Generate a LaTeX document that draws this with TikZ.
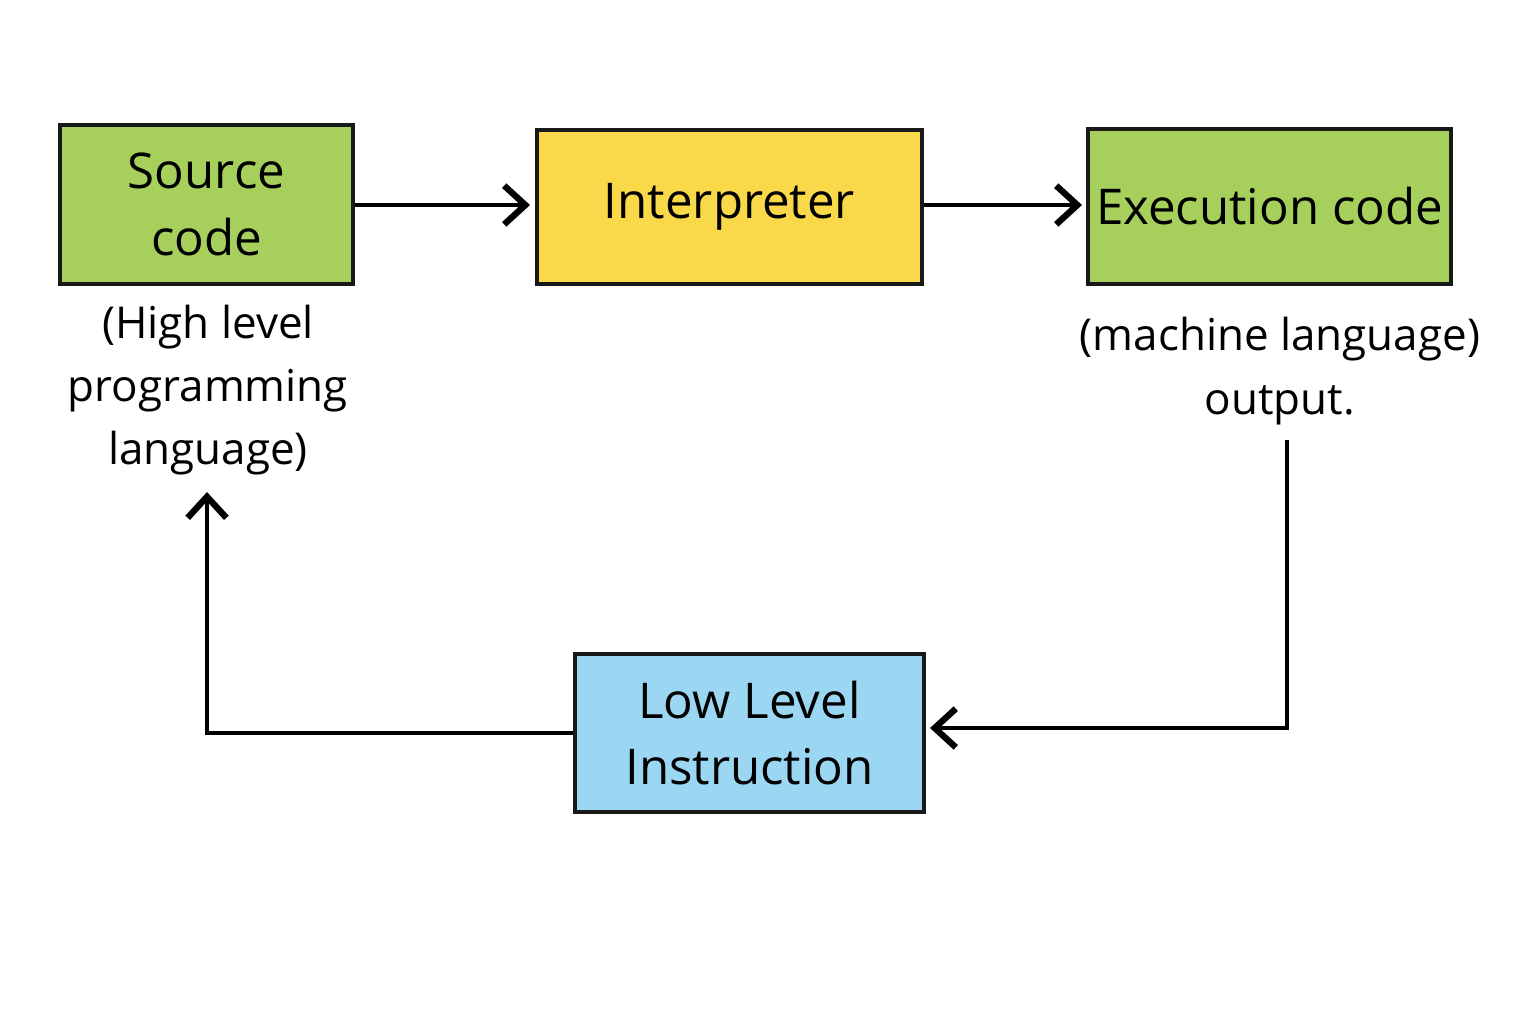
\documentclass[tikz,border=0pt]{standalone}
\usepackage{fontspec}
\setmainfont{Open Sans}
\usetikzlibrary{arrows.meta}
\definecolor{grn}{HTML}{A6CF5C}
\definecolor{ylw}{HTML}{F9D84A}
\definecolor{blu}{HTML}{9BD6F3}
\begin{document}
\begin{tikzpicture}[x=0.01cm,y=-0.01cm,
  box/.style={draw=black!90,line width=1.3pt,inner sep=0pt,align=center,font=\fontsize{14}{19}\selectfont},
  lbl/.style={align=center,font=\fontsize{12.5}{18}\selectfont},
  arr/.style={line width=1.2pt,-{Straight Barb[length=6pt,width=11pt,line width=1.8pt]}}]
\useasboundingbox (0,0) rectangle (1528,1029);
\node[box,fill=grn,minimum width=2.93cm,minimum height=1.59cm] (src) at (206.5,204.5) {Source\\code};
\node[box,fill=ylw,minimum width=3.85cm,minimum height=1.54cm] (int) at (729.5,207) {Interpreter};
\node[box,fill=grn,minimum width=3.63cm,minimum height=1.55cm] (exe) at (1269.5,206.5) {Execution code};
\node[box,fill=blu,minimum width=3.49cm,minimum height=1.58cm] (low) at (749.5,733) {Low Level\\Instruction};
\node[lbl] (hl) at (208,390) {(High level\\programming\\language)};
\node[lbl] (ml) at (1280,371) {(machine language)\\output.};
\coordinate (mlb) at (1287,440);
\coordinate (hlb) at (207,492);
\draw[arr] (src.east |- 0,205) -- (530,205);
\draw[arr] (int.east |- 0,205) -- (1082,205);
\draw[arr] (mlb) |- (930,728);
\draw[arr] (low.west) -| (hlb);
\end{tikzpicture}
\end{document}
